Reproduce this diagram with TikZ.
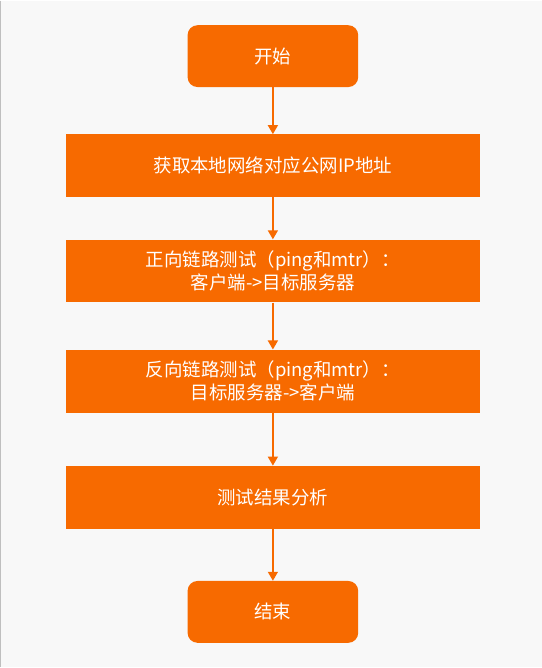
\documentclass[tikz,border=0pt]{standalone}
\usepackage{fontspec}
\newfontfamily\cjk{Noto Sans CJK SC}
\definecolor{flow}{HTML}{F76A00}
\definecolor{canvas}{HTML}{F8F8F8}
\usetikzlibrary{arrows.meta, positioning}

\begin{document}
\begin{tikzpicture}[
    x=1pt, y=-1pt,
    node distance=47pt,
    term/.style={rectangle, rounded corners=10pt, fill=flow, text=white,
        minimum width=171pt, minimum height=62pt, inner sep=0pt,
        font=\cjk\fontsize{18.5}{23}\selectfont},
    proc/.style={rectangle, fill=flow, text=white, align=center,
        minimum width=415pt, minimum height=63pt, inner sep=0pt,
        font=\cjk\fontsize{18.5}{23}\selectfont},
    arr/.style={-{Triangle[length=9pt, width=10pt]}, line width=1.5pt, flow}
]
% canvas with its grey left edge
\fill[canvas] (0,0) rectangle (543,668);
\draw[gray!50, line width=1.5pt] (0.75,0) -- (0.75,668);
\useasboundingbox (0,0) rectangle (543,668);

\node[term] (start) at (273.5,55.5) {开始};
\node[proc, below=47pt of start] (getip) {获取本地网络对应公网IP地址};
\node[proc, below=42pt of getip] (fwd) {正向链路测试（ping和mtr）：\\ 客户端->目标服务器};
\node[proc, below=47pt of fwd] (rev) {反向链路测试（ping和mtr）：\\ 目标服务器->客户端};
\node[proc, below=53pt of rev] (result) {测试结果分析};
\node[term, below=52pt of result] (stop) {结束};

\draw[arr] (start) -- (getip);
\draw[arr] (getip) -- (fwd);
\draw[arr] (fwd) -- (rev);
\draw[arr] (rev) -- (result);
\draw[arr] (result) -- (stop);
\end{tikzpicture}
\end{document}
